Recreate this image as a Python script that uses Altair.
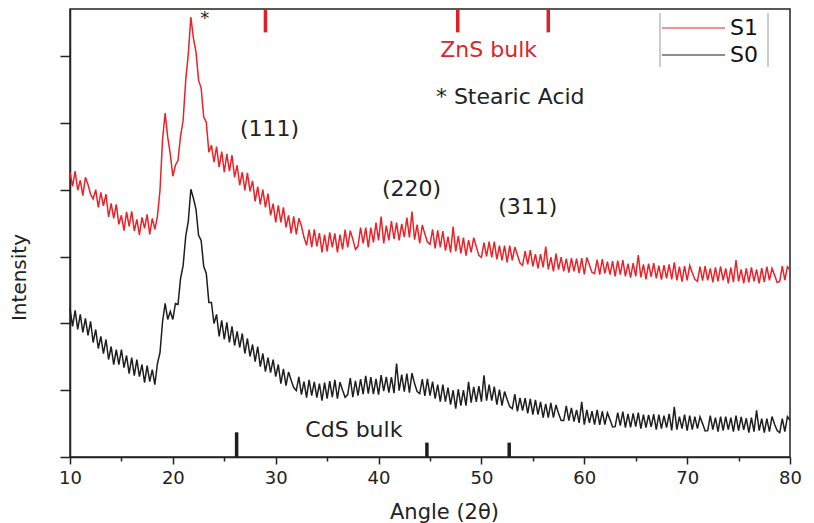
import altair as alt
import pandas as pd

FONT = "DejaVu Sans"

# ---------------- data ----------------
ANGLE_START = 10.0
ANGLE_STEP = 0.25

# S1 (red) intensity, one value per 0.25 deg from 10 to 80
s1_counts = [
    853, 811, 856, 799, 829, 783, 838, 816, 787, 773, 801, 748,
    793, 752, 787, 719, 760, 715, 757, 697, 724, 678, 734, 691,
    736, 677, 712, 665, 718, 685, 727, 667, 715, 682, 721, 799,
    952, 1030, 958, 907, 841, 874, 889, 961, 1009, 1129, 1207, 1318,
    1255, 1213, 1129, 1105, 1018, 1003, 913, 934, 883, 930, 868, 915,
    853, 907, 856, 904, 838, 874, 814, 853, 799, 851, 796, 827,
    766, 810, 757, 801, 748, 789, 724, 759, 703, 754, 703, 748,
    688, 724, 670, 721, 667, 715, 692, 658, 634, 681, 629, 682,
    631, 671, 613, 666, 616, 673, 628, 670, 613, 666, 622, 681,
    628, 678, 652, 622, 631, 687, 640, 687, 628, 687, 643, 702,
    649, 720, 640, 693, 649, 707, 653, 702, 649, 698, 659, 717,
    658, 735, 651, 696, 640, 695, 668, 644, 637, 682, 625, 679,
    628, 677, 618, 660, 613, 690, 616, 662, 610, 657, 603, 650,
    613, 657, 630, 604, 598, 642, 601, 645, 598, 645, 592, 633,
    589, 633, 583, 633, 589, 629, 605, 581, 574, 617, 577, 620,
    571, 608, 565, 608, 568, 630, 562, 599, 556, 609, 561, 599,
    556, 594, 552, 596, 556, 594, 551, 596, 547, 598, 575, 553,
    550, 591, 546, 593, 550, 585, 546, 587, 541, 588, 546, 590,
    541, 579, 537, 581, 541, 605, 538, 577, 532, 579, 540, 581,
    535, 573, 531, 575, 535, 577, 532, 583, 529, 570, 525, 572,
    529, 574, 552, 532, 526, 570, 528, 572, 529, 565, 523, 568,
    526, 571, 529, 565, 520, 567, 524, 590, 526, 562, 520, 565,
    523, 568, 526, 562, 520, 566, 524, 570, 529, 565, 545, 523,
    526, 572, 530, 570, 560,
]

# S0 (black) intensity, same angles
s0_counts = [
    445, 391, 439, 382, 427, 373, 415, 364, 406, 343, 382, 325,
    361, 310, 352, 292, 331, 277, 322, 277, 322, 268, 304, 250,
    298, 244, 292, 241, 277, 223, 274, 226, 262, 217, 280, 313,
    406, 460, 412, 436, 412, 460, 457, 535, 574, 661, 706, 802,
    775, 742, 664, 649, 571, 550, 463, 463, 400, 427, 361, 409,
    352, 403, 343, 391, 334, 376, 328, 370, 310, 355, 301, 337,
    286, 331, 271, 310, 256, 298, 253, 292, 241, 277, 220, 264,
    214, 255, 230, 208, 199, 240, 187, 226, 178, 231, 184, 225,
    178, 220, 169, 223, 175, 227, 179, 231, 175, 224, 200, 179,
    187, 236, 179, 228, 184, 233, 188, 243, 190, 239, 188, 234,
    187, 245, 197, 240, 193, 239, 191, 280, 199, 247, 196, 250,
    193, 251, 220, 196, 190, 233, 183, 234, 184, 226, 175, 217,
    166, 217, 166, 208, 157, 200, 145, 203, 154, 200, 154, 225,
    163, 210, 165, 212, 166, 245, 169, 217, 169, 211, 157, 202,
    154, 196, 172, 151, 145, 188, 137, 177, 139, 176, 131, 174,
    127, 171, 127, 165, 118, 159, 118, 162, 118, 156, 130, 109,
    109, 153, 109, 147, 106, 141, 102, 165, 97, 141, 102, 137,
    97, 141, 96, 137, 97, 132, 112, 90, 91, 133, 94, 136,
    88, 129, 89, 131, 91, 133, 85, 127, 88, 126, 90, 128,
    82, 127, 85, 124, 88, 129, 80, 150, 82, 121, 85, 127,
    79, 124, 82, 121, 85, 120, 100, 78, 79, 124, 82, 118,
    76, 121, 79, 121, 82, 118, 76, 124, 79, 120, 81, 116,
    73, 118, 76, 140, 79, 115, 73, 115, 76, 121, 98, 79,
    73, 115, 76, 121, 110,
]

sample_names = ["S1", "S0"]
sample_colors = ["#e8232a", "#1e1e1e"]

# reference bulk peak positions
zns_ref_angles = [29.0, 47.7, 56.5]
zns_ref_top = [1342, 1342, 1342]
zns_ref_bottom = [1272, 1272, 1272]
cds_ref_angles = [26.2, 44.7, 52.7]
cds_ref_heights = [74, 43, 43]

# annotations (angle, intensity at text baseline)
black_labels = ["* Stearic Acid", "(111)", "(220)", "(311)", "CdS bulk"]
black_label_angles = [52.8, 29.4, 43.2, 54.5, 37.6]
black_label_counts = [1057, 961, 781, 727, 61]
star_label = ["*"]
star_angle = [23.1]
star_counts = [1297]
red_label = ["ZnS bulk"]
red_label_angle = [50.7]
red_label_counts = [1198]

x_ticks = [10, 15, 20, 25, 30, 35, 40, 45, 50, 55, 60, 65, 70, 75, 80]
y_ticks = [0, 100, 200, 300, 400, 500, 600, 700, 800, 900, 1000, 1100, 1200, 1300]
Y_MAX = 1342

# ---------------- tables ----------------
n = len(s1_counts)
angles = [ANGLE_START + ANGLE_STEP * i for i in range(n)]
lines_df = pd.DataFrame({
    "angle": angles + angles,
    "counts": s1_counts + s0_counts,
    "sample": ["S1"] * n + ["S0"] * len(s0_counts),
})
zns_df = pd.DataFrame({"angle": zns_ref_angles, "top": zns_ref_top, "bottom": zns_ref_bottom})
cds_df = pd.DataFrame({"angle": cds_ref_angles, "h": cds_ref_heights, "base": [0] * len(cds_ref_angles)})
black_df = pd.DataFrame({"text": black_labels, "angle": black_label_angles, "counts": black_label_counts})
star_df = pd.DataFrame({"text": star_label, "angle": star_angle, "counts": star_counts})
red_df = pd.DataFrame({"text": red_label, "angle": red_label_angle, "counts": red_label_counts})

xscale = alt.Scale(domain=[10, 80], nice=False, zero=False)
yscale = alt.Scale(domain=[0, Y_MAX], nice=False, zero=False)

x_axis = alt.Axis(
    orient="bottom", values=x_ticks, grid=False,
    labelExpr="datum.value % 10 === 0 ? datum.label : ''",
    tickSize=alt.condition("datum.value % 10 === 0", alt.value(7), alt.value(4)),
    tickColor="#222", tickWidth=1.5, domainColor="#222", domainWidth=1.5,
    labelFont=FONT, labelFontSize=18, labelColor="#222", labelPadding=5,
    labelFlush=False, labelOverlap=False,
    title="Angle (2θ)", titleFont=FONT, titleFontSize=21, titleFontWeight="normal",
    titleColor="#222", titleX=374, titleY=44, titleBaseline="top",
)
y_axis = alt.Axis(
    orient="left", values=y_ticks, grid=False, labels=False,
    tickSize=alt.condition("datum.value % 200 === 0", alt.value(10), alt.value(5)),
    tickColor="#222", tickWidth=1.5, domainColor="#222", domainWidth=1.5,
    title="Intensity", titleFont=FONT, titleFontSize=20, titleFontWeight="normal",
    titleColor="#222", titleX=-51, titleY=268, titleAngle=270, titleBaseline="middle",
    titleAlign="center",
)

lines = alt.Chart(lines_df).mark_line(strokeWidth=1.5).encode(
    x=alt.X("angle:Q", scale=xscale, axis=x_axis),
    y=alt.Y("counts:Q", scale=yscale, axis=y_axis),
    color=alt.Color("sample:N", scale=alt.Scale(domain=sample_names, range=sample_colors), legend=None),
    detail="sample:N",
)

zns_ticks = alt.Chart(zns_df).mark_rule(color="#e01f26", strokeWidth=3.5).encode(
    x="angle:Q", y="top:Q", y2="bottom:Q",
)
cds_ticks = alt.Chart(cds_df).mark_rule(color="#1e1e1e", strokeWidth=3.5).encode(
    x="angle:Q", y="base:Q", y2="h:Q",
)

black_text = alt.Chart(black_df).mark_text(
    font=FONT, fontSize=22, color="#222", align="center", baseline="alphabetic"
).encode(x="angle:Q", y="counts:Q", text="text:N")
star_text = alt.Chart(star_df).mark_text(
    font=FONT, fontSize=18, color="#222", align="center", baseline="alphabetic"
).encode(x="angle:Q", y="counts:Q", text="text:N")
red_text = alt.Chart(red_df).mark_text(
    font=FONT, fontSize=22, color="#d8262b", align="center", baseline="alphabetic"
).encode(x="angle:Q", y="counts:Q", text="text:N")

# legend (drawn box with two sample entries)
leg_df = pd.DataFrame({"sample": sample_names})
leg_box_l = alt.Chart(leg_df.head(1)).mark_rule(color="#999", strokeWidth=1).encode(
    x=alt.value(590), y=alt.value(4), y2=alt.value(58))
leg_box_r = alt.Chart(leg_df.head(1)).mark_rule(color="#999", strokeWidth=1).encode(
    x=alt.value(698), y=alt.value(4), y2=alt.value(58))
leg_s1 = alt.Chart(leg_df.head(1)).mark_rule(color=sample_colors[0], strokeWidth=1.2).encode(
    x=alt.value(592), x2=alt.value(655), y=alt.value(19))
leg_s0 = alt.Chart(leg_df.head(1)).mark_rule(color=sample_colors[1], strokeWidth=1.2).encode(
    x=alt.value(592), x2=alt.value(655), y=alt.value(46))
leg_t1 = alt.Chart(leg_df.head(1)).mark_text(
    text=sample_names[0], font=FONT, fontSize=22, color="#111", align="left", baseline="middle"
).encode(x=alt.value(660), y=alt.value(19))
leg_t0 = alt.Chart(leg_df.head(1)).mark_text(
    text=sample_names[1], font=FONT, fontSize=22, color="#111", align="left", baseline="middle"
).encode(x=alt.value(660), y=alt.value(46))

chart = alt.layer(
    lines, zns_ticks, cds_ticks, black_text, star_text, red_text,
    leg_box_l, leg_box_r, leg_s1, leg_s0, leg_t1, leg_t0,
).properties(
    width=720, height=448,
    autosize=alt.AutoSizeParams(type="none"),
    padding={"left": 70, "top": 9, "right": 24, "bottom": 66},
    background="white",
).configure_view(stroke="#222", strokeWidth=1.5)

chart.save("out.html", embed_options={"renderer": "svg", "actions": False})
